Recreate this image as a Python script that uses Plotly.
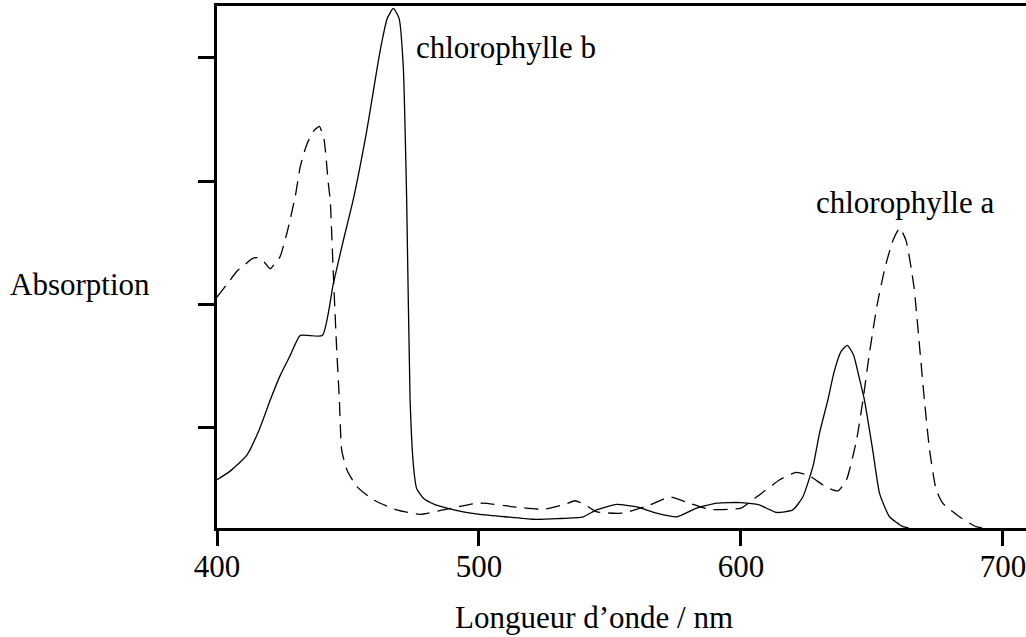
import plotly.graph_objects as go

# chlorophylle b (solid line)
chl_b_nm = [400, 405, 411.4, 416, 420.4, 424, 428, 431.8, 440.2, 444.4, 448, 452, 457, 462.3,
            465, 467.3, 469.5, 471.1, 472.4, 473.7, 475, 476.2, 478.8, 483, 487.7, 494, 500.4,
            510, 520.6, 530, 539.8, 544.9, 552.5, 560.2, 567.8, 575.5, 583.1, 590.8, 600, 607,
            613.5, 619.8, 623.6, 627.5, 630, 633.2, 635.5, 638.2, 640.6, 643, 645, 647.1, 650.3,
            652.9, 656.7, 661.8, 664]
chl_b_abs = [0.58, 0.65, 0.78, 0.98, 1.23, 1.42, 1.59, 1.75, 1.75, 2.17, 2.5, 2.85, 3.39, 4.06,
             4.32, 4.40, 4.32, 3.93, 2.85, 1.23, 0.69, 0.51, 0.43, 0.38, 0.35, 0.32, 0.30,
             0.28, 0.26, 0.265, 0.28, 0.336, 0.38, 0.36, 0.31, 0.28, 0.35, 0.39, 0.395, 0.376,
             0.315, 0.336, 0.44, 0.69, 0.96, 1.23, 1.45, 1.62, 1.67, 1.59, 1.42, 1.23, 0.82,
             0.47, 0.28, 0.20, 0.19]

# chlorophylle a (dashed line)
chl_a_nm = [400, 404, 407.6, 411, 413.3, 415.2, 417.8, 420.3, 422, 424.1, 426.7, 429.9, 431.8,
            434.3, 437, 439.1, 440.9, 442.5, 443.2, 444.4, 445.7, 446.7, 447.6, 449.6, 453.4,
            459.7, 468.6, 477.5, 486.4, 497.8, 501.6, 514.4, 524.5, 533.4, 536.6, 539.8, 545,
            555, 565.2, 572.8, 580.4, 588, 600, 605.9, 614.8, 621.1, 626.3, 632.6, 637.1, 640.3,
            644.1, 646.6, 649, 652, 655, 658, 660.6, 663, 666, 668, 670, 672, 674.5, 677, 683.4,
            689.7, 692]
chl_a_abs = [2.06, 2.17, 2.27, 2.33, 2.37, 2.38, 2.35, 2.29, 2.33, 2.39, 2.58, 2.88, 3.12,
             3.30, 3.41, 3.445, 3.33, 2.98, 2.85, 2.25, 1.63, 1.23, 0.82, 0.66, 0.525,
             0.417, 0.336, 0.30, 0.336, 0.385, 0.39, 0.358, 0.34, 0.385, 0.41, 0.385, 0.32,
             0.31, 0.376, 0.44, 0.39, 0.34, 0.35, 0.44, 0.58, 0.64, 0.61, 0.52, 0.49, 0.58,
             0.90, 1.23, 1.6, 2.0, 2.3, 2.52, 2.62, 2.52, 2.15, 1.7, 1.23, 0.82, 0.50, 0.39, 0.28,
             0.20, 0.19]

x_ticks = [400, 500, 600, 700]
y_ticks = [1, 2, 3, 4]

FONT = "Liberation Serif, Times New Roman, serif"
fig = go.Figure()
fig.add_trace(go.Scatter(x=chl_b_nm, y=chl_b_abs, mode="lines",
                         line=dict(color="black", width=1.3, shape="spline", smoothing=0.5),
                         showlegend=False))
fig.add_trace(go.Scatter(x=chl_a_nm, y=chl_a_abs, mode="lines",
                         line=dict(color="black", width=1.3, dash="14px,8px", shape="spline", smoothing=0.5),
                         showlegend=False))

fig.update_layout(
    width=1026, height=637,
    margin=dict(l=217, r=0, t=6, b=109),
    paper_bgcolor="white", plot_bgcolor="white",
    font=dict(family=FONT, size=31, color="black"),
    xaxis=dict(range=[400, 708.8], tickvals=x_ticks, ticktext=[str(v) for v in x_ticks],
               ticks="outside", ticklen=15, tickwidth=2.5, tickcolor="black",
               showline=True, linewidth=2.5, linecolor="black", mirror=True,
               showgrid=False, zeroline=False, ticklabelstandoff=-6,
               ticklabeloverflow="allow",
               tickfont=dict(family=FONT, size=31, color="black")),
    yaxis=dict(range=[0.189, 4.42], tickvals=y_ticks, showticklabels=False,
               ticks="outside", ticklen=16, tickwidth=2.5, tickcolor="black",
               showline=True, linewidth=2.5, linecolor="black", mirror=False,
               showgrid=False, zeroline=False),
)

ann_font = dict(family=FONT, size=31, color="black")
fig.add_annotation(x=475.3, y=4.08, xref="x", yref="y", text="chlorophylle b", showarrow=False,
                   xanchor="left", yanchor="middle", font=ann_font)
fig.add_annotation(x=627.8, y=2.824, xref="x", yref="y", text="chlorophylle a", showarrow=False,
                   xanchor="left", yanchor="middle", font=ann_font)
fig.add_annotation(x=-0.258, y=2.16, xref="paper", yref="y", text="Absorption", showarrow=False,
                   xanchor="left", yanchor="middle", font=ann_font)
fig.add_annotation(x=543.95, y=-0.1705, xref="x", yref="paper", text="Longueur d’onde / nm", showarrow=False,
                   xanchor="center", yanchor="middle", font=ann_font)

fig.write_html("out.html", config={"displayModeBar": False},
               post_script="document.body.style.margin='0';")
